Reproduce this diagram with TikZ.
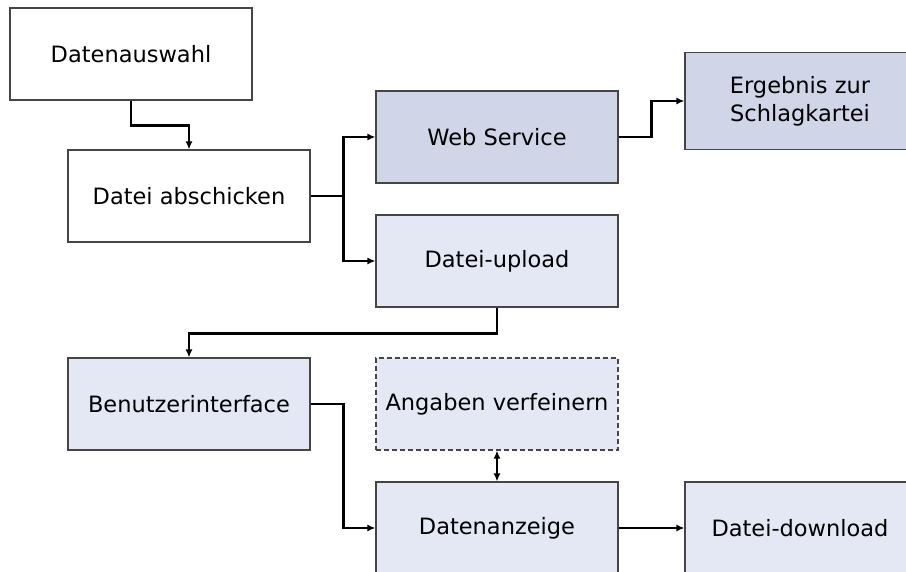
\documentclass[tikz,border=0pt]{standalone}
\usepackage{fontspec}
\setmainfont{DejaVu Sans}
\usepackage{tikz}
\usetikzlibrary{arrows.meta,positioning}
\definecolor{boxline}{HTML}{454545}
\definecolor{webfill}{HTML}{D0D5E8}
\definecolor{dotfill}{HTML}{E4E8F4}

\begin{document}
\begin{tikzpicture}[x=1pt, y=-1pt]

\tikzset{
  plainbox/.style={draw=boxline, fill=white, line width=1.1pt,
                   minimum width=242pt, minimum height=92pt, align=center,
                   font=\fontsize{22.5}{28}\selectfont, inner sep=0pt},
  webbox/.style={plainbox, fill=webfill},
  dotbox/.style={plainbox, fill=dotfill},
  optbox/.style={dotbox, dash pattern=on 5pt off 3pt},
  flow/.style={-{Latex[length=8pt,width=7pt]}, line width=2.2pt, draw=black},
  twoflow/.style={{Latex[length=8pt,width=7pt]}-{Latex[length=8pt,width=7pt]}, line width=2.2pt, draw=black}}

\useasboundingbox (0,0) rectangle (906,572);
\clip (0,0) rectangle (906,572);

% left column
\node[plainbox] (auswahl)   at (131,54)  {Datenauswahl};
\node[plainbox] (abschicken) at (189,196) {Datei abschicken};
\node[dotbox]   (benutzer)  at (189,404) {Benutzerinterface};

% middle column
\node[webbox] (web)     at (497,137) {Web Service};
\node[dotbox] (upload)  at (497,261) {Datei-upload};
\node[optbox] (angaben) at (497,404) {Angaben verfeinern};
\node[dotbox] (anzeige) at (497,528) {Datenanzeige};

% right column (cut off at the page edge)
\node[webbox, minimum width=230pt, minimum height=97pt] (ergebnis) at (800,101) {Ergebnis zur\\Schlagkartei};
\node[dotbox, minimum width=230pt] (download) at (800,528) {Datei-download};

% connectors
\draw[flow] (auswahl.south) -- ++(0,25) -| (abschicken.north);
\draw[flow] (abschicken.east) -- ++(33,0) |- (web.west);
\draw[flow] (abschicken.east) -- ++(33,0) |- (upload.west);
\draw[flow] (web.east) -- ++(33,0) |- (ergebnis.west);
\draw[flow] (upload.south) -- ++(0,26) -| (benutzer.north);
\draw[flow] (benutzer.east) -- ++(33,0) |- (anzeige.west);
\draw[twoflow] (angaben.south) -- (anzeige.north);
\draw[flow] (anzeige.east) -- (download.west);

\end{tikzpicture}
\end{document}
